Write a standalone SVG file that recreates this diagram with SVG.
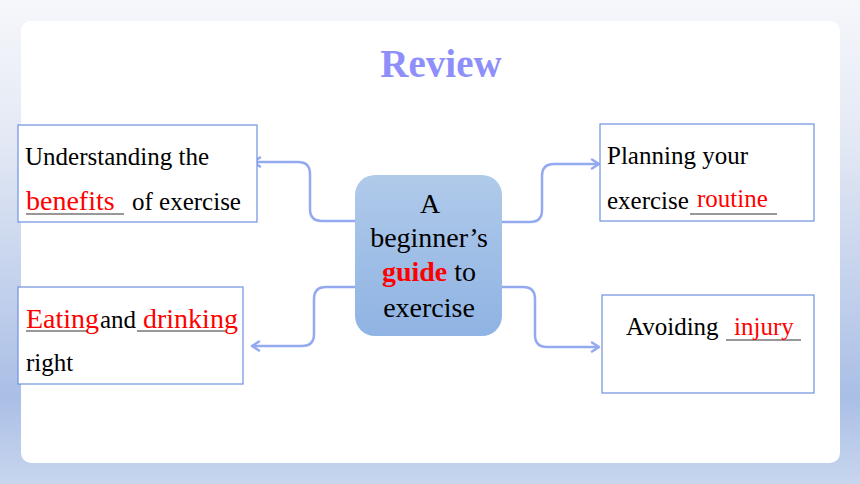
<svg xmlns="http://www.w3.org/2000/svg" width="860" height="484" viewBox="0 0 860 484" font-family="'Liberation Serif', 'Times New Roman', serif">
<defs>
<linearGradient id="bg" x1="0" y1="0" x2="0" y2="1">
<stop offset="0" stop-color="#f6f7fb"/>
<stop offset="0.3" stop-color="#e2e8f4"/>
<stop offset="0.82" stop-color="#aabfe6"/>
<stop offset="1" stop-color="#c8d6ee"/>
</linearGradient>
<linearGradient id="cg" x1="0" y1="0" x2="0" y2="1">
<stop offset="0" stop-color="#b0caea"/>
<stop offset="1" stop-color="#8fb3e3"/>
</linearGradient>
<marker id="ar" markerWidth="12" markerHeight="12" refX="9" refY="6" orient="auto" markerUnits="userSpaceOnUse">
<polyline points="2,1.5 9,6 2,10.5" fill="none" stroke="#93aaf0" stroke-width="2.5" stroke-linecap="round" stroke-linejoin="round"/>
</marker>
</defs>
<style>
.box{fill:#ffffff;stroke:#6f92e0;stroke-width:1.2}
.t{font-size:25px;fill:#000}
.r{fill:#ff0000}
.rb{font-size:28px}
.ul{stroke:#333;stroke-width:1.2}
.c{fill:none;stroke:#93aaf0;stroke-width:2.5}
.ct{font-size:28px;fill:#000;text-anchor:middle}
</style>
<rect x="0" y="0" width="860" height="484" fill="url(#bg)"/>
<rect x="21" y="21" width="819" height="442" rx="10" fill="#ffffff"/>
<text x="441" y="77" font-size="39" font-weight="bold" fill="#8f8ffa" text-anchor="middle">Review</text>
<g id="connectors">
<path class="c" d="M355,221 H322 Q310,221 310,209 V174 Q310,162 298,162 H253" marker-end="url(#ar)"/>
<path class="c" d="M355,287 H326 Q314,287 314,299 V334 Q314,346 302,346 H252" marker-end="url(#ar)"/>
<path class="c" d="M502,222 H530 Q542,222 542,210 V176 Q542,164 554,164 H599" marker-end="url(#ar)"/>
<path class="c" d="M502,287 H523 Q535,287 535,299 V335 Q535,347 547,347 H599" marker-end="url(#ar)"/>
</g>
<g id="center">
<rect x="355" y="175" width="147" height="161" rx="20" fill="url(#cg)"/>
<text class="ct" x="430" y="213">A</text>
<text class="ct" x="429" y="247">beginner’s</text>
<text class="ct" x="429" y="281"><tspan fill="#ff0000" font-weight="bold">guide</tspan> to</text>
<text class="ct" x="429" y="317">exercise</text>
</g>
<g id="benefits">
<rect class="box" x="18" y="125" width="239" height="97"/>
<text class="t" x="25" y="165">Understanding the</text>
<line class="ul" x1="26" y1="214" x2="124" y2="214"/>
<text class="t r rb" x="26" y="210">benefits</text>
<text class="t" x="132" y="210">of exercise</text>
</g>
<g id="eating">
<rect class="box" x="18" y="287" width="225" height="97"/>
<line class="ul" x1="26" y1="331" x2="88" y2="331"/>
<line class="ul" x1="137" y1="331" x2="225" y2="331"/>
<text class="t r rb" x="26" y="328">Eating</text>
<text class="t" x="100" y="328">and</text>
<text class="t r rb" x="143" y="328">drinking</text>
<text class="t" x="26" y="371">right</text>
</g>
<g id="planning">
<rect class="box" x="600" y="124" width="214" height="97"/>
<text class="t" x="607" y="164">Planning your</text>
<line class="ul" x1="690" y1="214" x2="777" y2="214"/>
<text class="t" x="607" y="209">exercise</text>
<text class="t r" x="697" y="207">routine</text>
</g>
<g id="avoiding">
<rect class="box" x="602" y="295" width="212" height="98"/>
<text class="t" x="626" y="335">Avoiding</text>
<line class="ul" x1="726" y1="340" x2="801" y2="340"/>
<text class="t r" x="734" y="335">injury</text>
</g>
</svg>
